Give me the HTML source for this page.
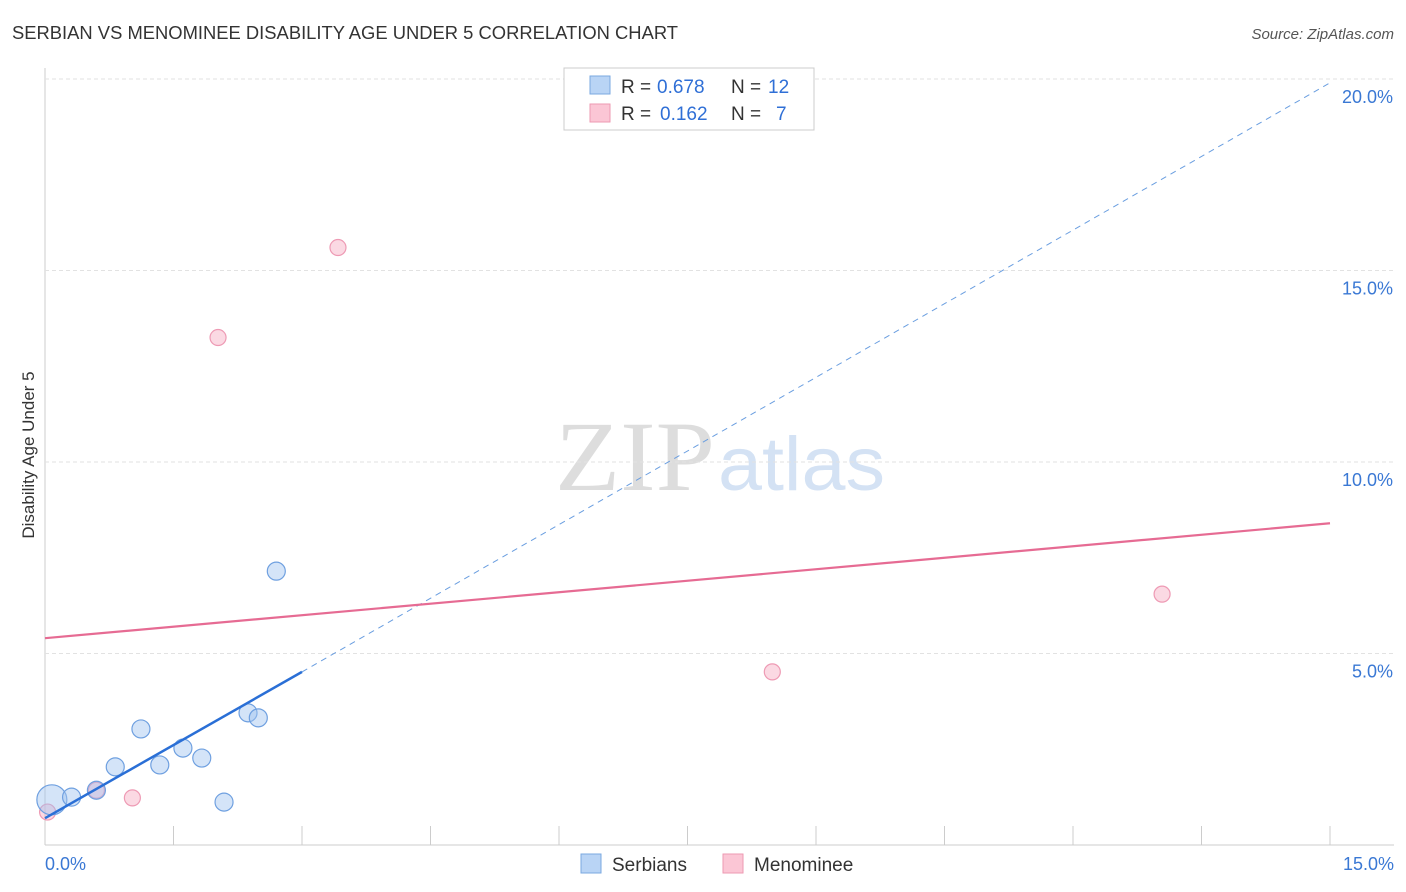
<!DOCTYPE html>
<html><head><meta charset="utf-8"><style>
body{margin:0;background:#fff;font-family:"Liberation Sans",sans-serif}
</style></head><body>
<svg id="c" width="1406" height="892" style="display:block">
<text x="12" y="39" font-size="18" fill="#333" textLength="666" lengthAdjust="spacingAndGlyphs">SERBIAN VS MENOMINEE DISABILITY AGE UNDER 5 CORRELATION CHART</text>
<text x="1394" y="39" font-size="15" fill="#555" text-anchor="end" font-style="italic">Source: ZipAtlas.com</text>
<text x="34" y="455" font-size="17" fill="#333" text-anchor="middle" transform="rotate(-90 34 455)">Disability Age Under 5</text>
<text x="555" y="490" font-size="100" fill="#ddd" textLength="160" lengthAdjust="spacingAndGlyphs" font-family="Liberation Serif">ZIP</text>
<text x="718" y="490" font-size="76" fill="#d4e2f4" textLength="167" lengthAdjust="spacingAndGlyphs">atlas</text>
<g id="grid"></g><g id="marks"></g>
<g>
<rect x="564" y="68" width="250" height="62" fill="#fff" stroke="#ccc"/>
<rect x="590" y="76" width="20" height="18" fill="#b9d4f5" stroke="#7aa8e0"/>
<rect x="590" y="104" width="20" height="18" fill="#fbc6d5" stroke="#ee99b2"/>
<text x="621" y="93" font-size="19" fill="#333">R =</text>
<text x="657" y="93" font-size="19" fill="#2f6fd6">0.678</text>
<text x="731" y="93" font-size="19" fill="#333">N =</text>
<text x="768" y="93" font-size="19" fill="#2f6fd6">12</text>
<text x="621" y="120" font-size="19" fill="#333">R =</text>
<text x="660" y="120" font-size="19" fill="#2f6fd6">0.162</text>
<text x="731" y="120" font-size="19" fill="#333">N =</text>
<text x="776" y="120" font-size="19" fill="#2f6fd6">7</text>
</g>
<g>
<rect x="581" y="854" width="20" height="19" fill="#b9d4f5" stroke="#7aa8e0"/>
<text x="612" y="871" font-size="19" fill="#333">Serbians</text>
<rect x="723" y="854" width="20" height="19" fill="#fbc6d5" stroke="#ee99b2"/>
<text x="754" y="871" font-size="19" fill="#333">Menominee</text>
</g>
</svg>
<script>
const yTicks=[5,10,15,20];
const yTickLabels=["5.0%","10.0%","15.0%","20.0%"];
const serbX=[0.08,0.31,0.6,0.82,1.12,1.34,1.61,1.83,2.09,2.37,2.49,2.7];
const serbY=[1.18,1.25,1.43,2.04,3.03,2.09,2.53,2.27,1.12,3.45,3.32,7.15];
const serbR=[15,9,9,9,9,9,9,9,9,9,9,9];
const menX=[0.03,0.6,1.02,2.02,3.42,8.49,13.04];
const menY=[0.86,1.43,1.23,13.25,15.6,4.52,6.55];
const serbLine=[0,0.7,3.0,4.52,15,19.9];
const menLine=[0,5.4,15,8.4];
const X=v=>45+v*(1285/15), Y=v=>845-v*38.3;
const NS="http://www.w3.org/2000/svg";
const g=document.getElementById('grid'), m=document.getElementById('marks');
function el(p,t,a){const e=document.createElementNS(NS,t);for(const k in a)e.setAttribute(k,a[k]);p.appendChild(e);return e;}
let e=el(g,'line',{x1:45,y1:68,x2:45,y2:845,stroke:'#ccc'});

e=el(g,'line',{x1:45,y1:845,x2:1394,y2:845,stroke:'#ccc'});

yTicks.forEach((t,i)=>{
 e=el(g,'line',{x1:45,y1:Y(t),x2:1394,y2:Y(t),stroke:'#e2e2e2','stroke-dasharray':'4,3'});
 
 e=el(g,'text',{x:1393,y:Y(t)+24,'font-size':18,fill:'#3a78d4','text-anchor':'end'});e.textContent=yTickLabels[i];
 
});
for(let i=1;i<=10;i++){const x=X(i*1.5);e=el(g,'line',{x1:x,y1:826,x2:x,y2:845,stroke:'#ccc'});
 }
e=el(g,'text',{x:45,y:870,'font-size':18,fill:'#3a78d4'});e.textContent='0.0%';

e=el(g,'text',{x:1394,y:870,'font-size':18,fill:'#3a78d4','text-anchor':'end'});e.textContent='15.0%';

menX.forEach((x,i)=>{e=el(m,'circle',{cx:X(x),cy:Y(menY[i]),r:8,fill:'rgba(248,180,200,0.5)',stroke:'#ee9ab4','stroke-width':1.2});
 });
serbX.forEach((x,i)=>{e=el(m,'circle',{cx:X(x),cy:Y(serbY[i]),r:serbR[i],fill:'rgba(160,195,240,0.45)',stroke:'#6fa0e0','stroke-width':1.2});
 });
e=el(m,'line',{x1:X(serbLine[0]),y1:Y(serbLine[1]),x2:X(serbLine[2]),y2:Y(serbLine[3]),stroke:'#2a6fd6','stroke-width':2.5});

e=el(m,'line',{x1:X(serbLine[2]),y1:Y(serbLine[3]),x2:X(serbLine[4]),y2:Y(serbLine[5]),stroke:'#6a9ee0','stroke-width':1,'stroke-dasharray':'6,5'});

e=el(m,'line',{x1:X(menLine[0]),y1:Y(menLine[1]),x2:X(menLine[2]),y2:Y(menLine[3]),stroke:'#e66b93','stroke-width':2.2});

</script>
</body></html>
